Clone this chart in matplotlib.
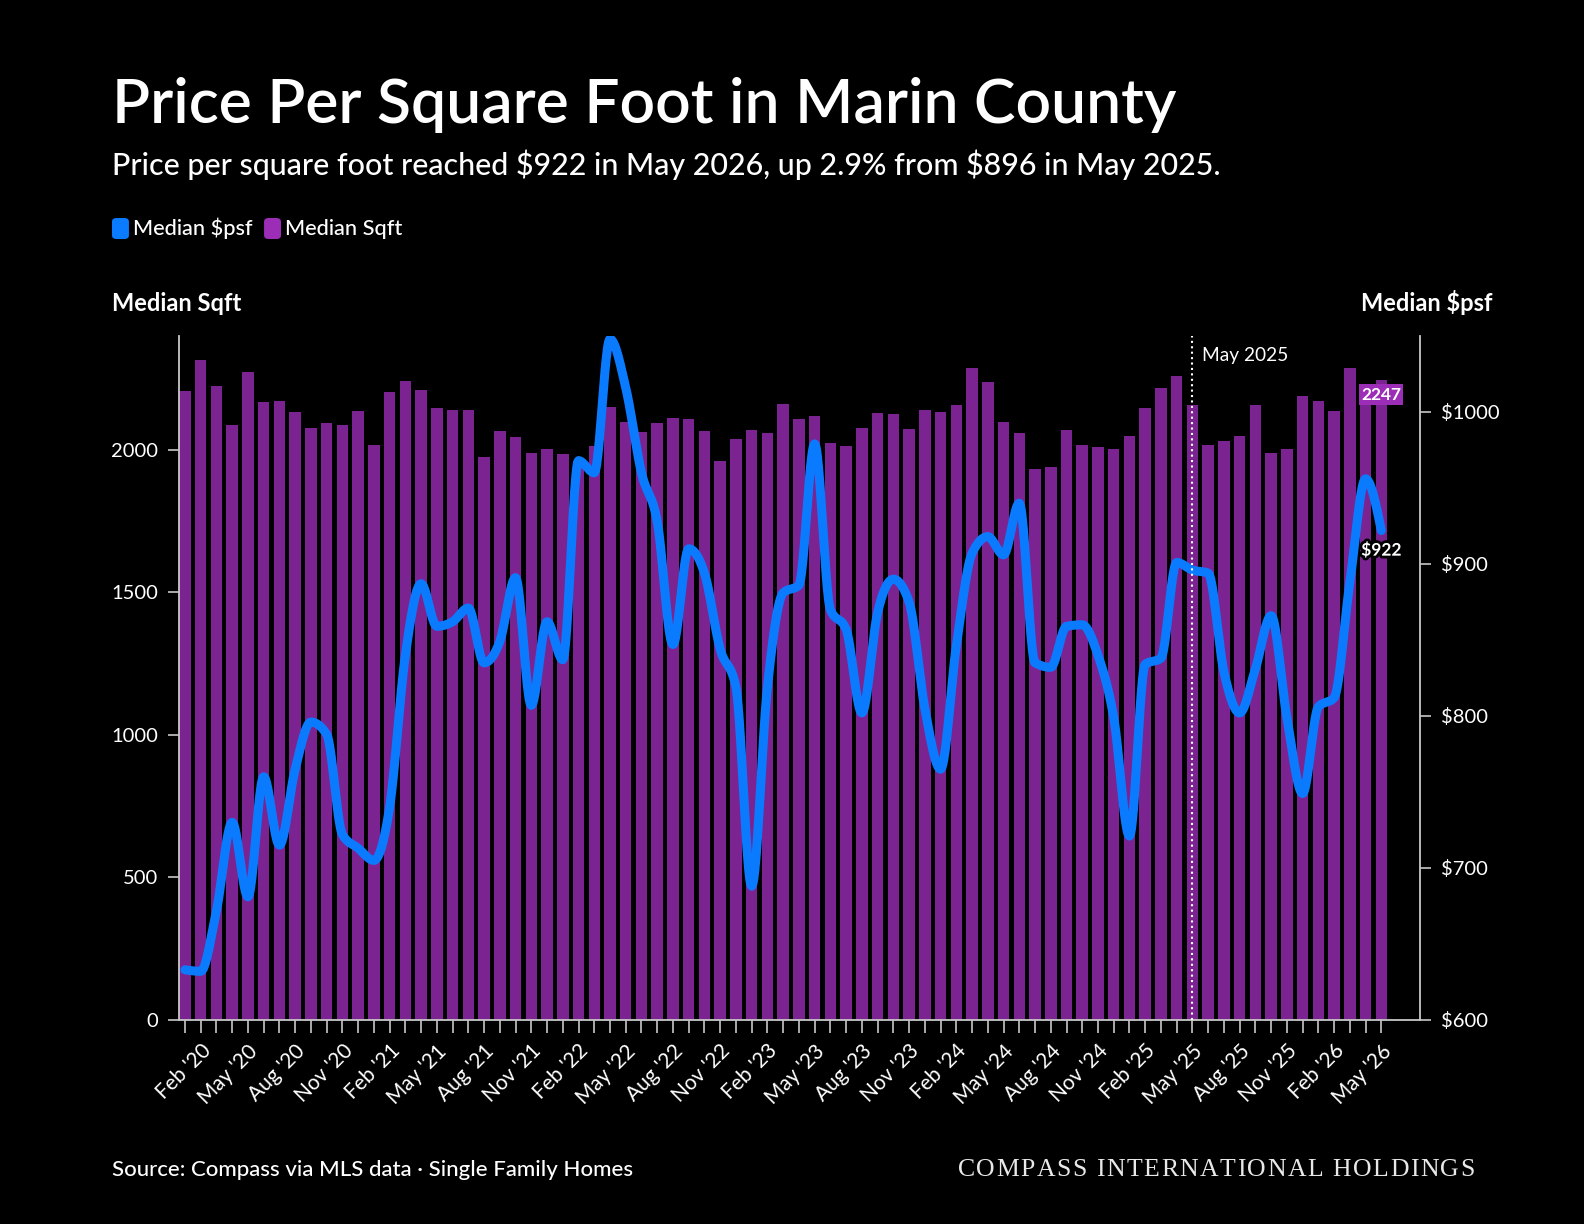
import numpy as np
import pandas as pd
import matplotlib
matplotlib.use("Agg")
import matplotlib.pyplot as plt
import matplotlib.patheffects as pe
from matplotlib.patches import FancyBboxPatch

# Marin County, single family homes, Jan 2020 - May 2026 (monthly)
months = pd.date_range("2020-01-01", periods=77, freq="MS")

median_sqft = [
    2207, 2317, 2223, 2086, 2274, 2169, 2172, 2135, 2078, 2094, 2086, 2136,
    2017, 2205, 2241, 2210, 2149, 2139, 2139, 1975, 2066, 2044, 1989, 2003,
    1987, 1960, 2013, 2152, 2099, 2063, 2094, 2111, 2108, 2066, 1961, 2039,
    2071, 2061, 2161, 2108, 2118, 2025, 2013, 2077, 2130, 2127, 2074, 2139,
    2133, 2157, 2288, 2240, 2099, 2058, 1934, 1940, 2071, 2016, 2009, 2002,
    2050, 2147, 2218, 2260, 2158, 2017, 2031, 2050, 2157, 1991, 2002, 2191,
    2172, 2138, 2288, 2200, 2247,
]

median_psf = [
    633, 632, 672, 730, 681, 760, 715, 765, 796, 788, 722, 713,
    705, 740, 840, 887, 859, 862, 871, 835, 849, 891, 807, 862,
    837, 968, 960, 1048, 1016, 960, 928, 847, 910, 894, 844, 819,
    688, 819, 881, 886, 979, 870, 857, 802, 868, 890, 875, 805,
    765, 846, 907, 918, 906, 940, 835, 832, 859, 860, 840, 799,
    721, 834, 838, 901, 896, 894, 829, 802, 831, 866, 799, 749,
    806, 812, 888, 956, 922,
]

tick_labels = [
    "Feb '20", "May '20", "Aug '20", "Nov '20",
    "Feb '21", "May '21", "Aug '21", "Nov '21",
    "Feb '22", "May '22", "Aug '22", "Nov '22",
    "Feb '23", "May '23", "Aug '23", "Nov '23",
    "Feb '24", "May '24", "Aug '24", "Nov '24",
    "Feb '25", "May '25", "Aug '25", "Nov '25",
    "Feb '26", "May '26",
]

sqft_ticks = [0, 500, 1000, 1500, 2000]
psf_ticks = [600, 700, 800, 900, 1000]
marker_month = "2025-05-01"

BLUE = "#0a7bff"
PURPLE = "#9b2db6"
GREY = "#c8c8c8"


def monotone_x(y, n=24):
    # smooth path through the points, like d3.curveMonotoneX
    y = np.asarray(y, dtype=float)
    m = np.diff(y)
    t = np.zeros_like(y)
    for i in range(1, len(y) - 1):
        m0, m1 = m[i - 1], m[i]
        if m0 * m1 > 0:
            p = (m0 + m1) / 2
            t[i] = (np.sign(m0) + np.sign(m1)) * min(abs(m0), abs(m1), 0.5 * abs(p))
    t[0] = (3 * m[0] - t[1]) / 2
    t[-1] = (3 * m[-1] - t[-2]) / 2
    s = np.linspace(0, 1, n, endpoint=False)
    h00 = 2 * s**3 - 3 * s**2 + 1
    h10 = s**3 - 2 * s**2 + s
    h01 = -2 * s**3 + 3 * s**2
    h11 = s**3 - s**2
    xs, ys = [], []
    for i in range(len(y) - 1):
        xs.append(i + s)
        ys.append(h00 * y[i] + h10 * t[i] + h01 * y[i + 1] + h11 * t[i + 1])
    xs.append([len(y) - 1])
    ys.append([y[-1]])
    return np.concatenate(xs), np.concatenate(ys)


def tracked_text(fig, s, x_right, y, width_px, **kw):
    # letter-spaced text, right aligned, spread to a given width in pixels
    r = fig.canvas.get_renderer()

    def w(txt):
        t = fig.text(0, 0, txt, **kw)
        ww = t.get_window_extent(r).width
        t.remove()
        return ww

    widths = [w("I I") - w("II") if ch == " " else w(ch) for ch in s]
    track = (width_px - sum(widths)) / (len(s) - 1)
    xpx = x_right * fig.bbox.width - width_px
    for ch, cw in zip(s, widths):
        if ch != " ":
            fig.text(xpx / fig.bbox.width, y, ch, va="baseline", ha="left", **kw)
        xpx += cw + track


plt.rcParams["font.family"] = ["Lato", "DejaVu Sans"]
plt.rcParams["text.parse_math"] = False

fig = plt.figure(figsize=(15.84, 12.24), dpi=100, facecolor="black")
ax = fig.add_axes([0.113, 0.1667, 0.7835, 0.5588])
ax.set_facecolor("black")

x = np.arange(len(months))
ax.bar(x, median_sqft, width=0.73, color=PURPLE, alpha=0.8, zorder=2)
ax.set_xlim(-0.38, 78.46)
ax.set_ylim(0, 2400)
ax.set_yticks(sqft_ticks)
ax.set_yticklabels([str(v) for v in sqft_ticks])

lab_pos = [i for i, d in enumerate(months) if d.month in (2, 5, 8, 11)]
ax.set_xticks(lab_pos)
ax.set_xticklabels(tick_labels, rotation=45, ha="right",
                   rotation_mode="anchor", fontsize=15, color="white")
ax.set_xticks(x, minor=True)
ax.tick_params(axis="x", which="both", length=9, width=1.2, color=GREY)
ax.tick_params(axis="x", which="major", pad=6)
ax.tick_params(axis="y", length=8, width=1.2, color=GREY, labelsize=14.5,
               labelcolor="white", pad=7)

for side in ["top", "right"]:
    ax.spines[side].set_visible(False)
for side in ["left", "bottom"]:
    ax.spines[side].set_color(GREY)
    ax.spines[side].set_linewidth(1.3)

ax2 = ax.twinx()
ax2.set_ylim(600, 1050)
ax2.set_yticks(psf_ticks)
ax2.set_yticklabels(["$" + str(v) for v in psf_ticks])
ax2.tick_params(axis="y", length=8, width=1.2, color=GREY, labelsize=14.5,
                labelcolor="white", pad=7)
for side in ["top", "left", "bottom"]:
    ax2.spines[side].set_visible(False)
ax2.spines["right"].set_color(GREY)
ax2.spines["right"].set_linewidth(1.3)

xs, ys = monotone_x(median_psf)
ax2.plot(xs, ys, color=BLUE, lw=6.5, solid_capstyle="round",
         solid_joinstyle="round", zorder=3)

# May 2025 marker
mi = list(months).index(pd.Timestamp(marker_month))
ax2.axvline(mi, color="white", lw=1.5, ls=(0, (1, 1.6)), zorder=4)
ax2.annotate("May 2025", xy=(mi, 1050), xytext=(7, -8),
             textcoords="offset points", ha="left", va="top",
             fontsize=13.8, color="white")

# end labels
last = len(months) - 1
ax2.annotate(str(median_sqft[-1]), xy=(last, median_sqft[-1]),
             xycoords=ax.transData, xytext=(0, -5), textcoords="offset points",
             ha="center", va="top", fontsize=12.5, fontweight="bold",
             color="white", zorder=6,
             bbox=dict(boxstyle="square,pad=0.12", fc=PURPLE, ec="none"))
ax2.annotate("$" + str(median_psf[-1]), xy=(last, median_psf[-1]),
             xytext=(0, -8), textcoords="offset points", ha="center", va="top",
             fontsize=12.5, fontweight="bold", color="white", zorder=6,
             path_effects=[pe.withStroke(linewidth=4, foreground="black")])

# titles
fig.text(0.0707, 0.8995, "Price Per Square Foot in Marin County",
         fontsize=44.9, fontweight="semibold", color="white", va="baseline")
fig.text(0.0707, 0.857,
         "Price per square foot reached $922 in May 2026, up 2.9% from $896 in May 2025.",
         fontsize=21.9, fontweight="medium", color="white", va="baseline")

# legend
for xl, col, lab in [(0.0707, BLUE, "Median $psf"), (0.1667, PURPLE, "Median Sqft")]:
    fig.patches.append(FancyBboxPatch((xl, 0.8047), 0.0107, 0.0172,
                                      boxstyle="round,pad=0,rounding_size=0.003",
                                      transform=fig.transFigure, fc=col, ec="none"))
    fig.text(xl + 0.0133, 0.808, lab, fontsize=15.7, fontweight="medium",
             color="white", va="baseline")

fig.text(0.0707, 0.746, "Median Sqft", fontsize=17, fontweight="bold",
         color="white", va="baseline")
fig.text(0.942, 0.746, "Median $psf", fontsize=17, fontweight="bold",
         color="white", va="baseline", ha="right")

fig.text(0.0707, 0.039, "Source: Compass via MLS data \u00b7 Single Family Homes",
         fontsize=16, fontweight="medium", color="white", va="baseline")
tracked_text(fig, "COMPASS INTERNATIONAL HOLDINGS", 0.931, 0.039, 517,
             fontsize=18.5, color="#e8e8e8", family="Liberation Serif")

fig.savefig("out.png", dpi=100, facecolor="black")
